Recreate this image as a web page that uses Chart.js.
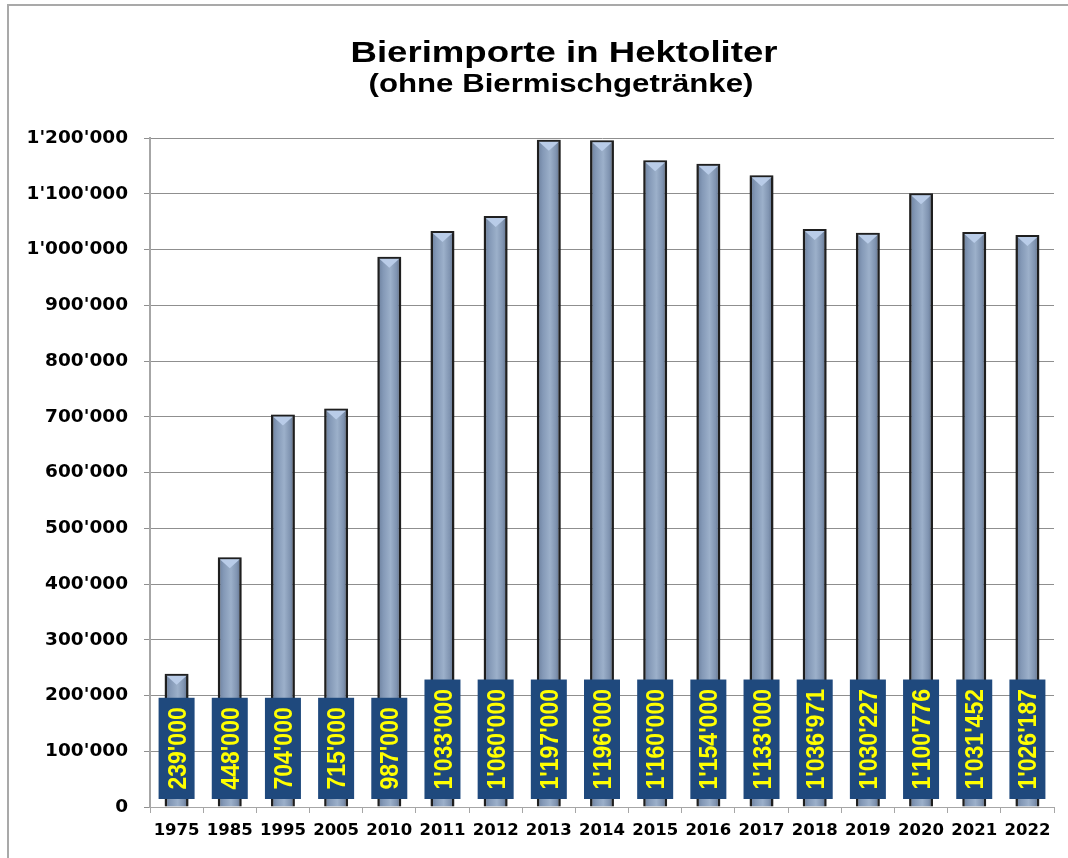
<!DOCTYPE html>
<html>
<head>
<meta charset="utf-8">
<script src="https://cdn.jsdelivr.net/npm/chart.js@4/dist/chart.umd.min.js"></script>
<style>
  html, body { margin: 0; padding: 0; background: #fff; }
  #wrap { width: 1068px; height: 858px; position: relative; }
</style>
</head>
<body>
<div id="wrap"><canvas id="chart" width="1068" height="858"></canvas></div>
<script>
// === DATEN ===
const years = ["1975", "1985", "1995", "2005", "2010", "2011", "2012", "2013", "2014",
  "2015", "2016", "2017", "2018", "2019", "2020", "2021", "2022"];
const imports = [239000, 448000, 704000, 715000, 987000, 1033000, 1060000, 1197000, 1196000,
  1160000, 1154000, 1133000, 1036971, 1030227, 1100776, 1031452, 1026187];
const yMax = 1200000;
const yStep = 100000;

const titleText = "Bierimporte in Hektoliter";
const subtitleText = "(ohne Biermischgetränke)";

const fmt = (v) => String(Math.round(v)).replace(/\B(?=(\d{3})+(?!\d))/g, "'");

const BAR_PCT = 0.45;
const ARIAL = "'Liberation Sans', Arial, sans-serif";

// gestreckter Text (Original ist horizontal etwas breit gezogen)
function stretchedText(ctx, txt, cx, baseline, font, sx) {
  ctx.save();
  ctx.font = font;
  ctx.fillStyle = "#000";
  ctx.textAlign = "center";
  ctx.textBaseline = "alphabetic";
  ctx.translate(cx, baseline);
  ctx.scale(sx, 1);
  ctx.fillText(txt, 0, 0);
  ctx.restore();
}

// === RAHMEN + TITEL ===
const framePlugin = {
  id: "frame",
  beforeDraw(chart) {
    const ctx = chart.ctx;
    ctx.save();
    ctx.strokeStyle = "#a9a9a9";
    ctx.lineWidth = 2;
    ctx.beginPath();
    ctx.moveTo(7, 5);
    ctx.lineTo(chart.width, 5);
    ctx.moveTo(8, 4);
    ctx.lineTo(8, chart.height);
    ctx.stroke();
    ctx.restore();
  },
  afterDraw(chart) {
    const ctx = chart.ctx;
    stretchedText(ctx, titleText, 564, 62, "bold 30px " + ARIAL, 1.22);
    stretchedText(ctx, subtitleText, 561, 92, "bold 26px " + ARIAL, 1.2);
  },
};

// === SCHATTEN, KAPPE UND WERTBOXEN ===
const barDeco = {
  id: "barDeco",
  beforeDatasetsDraw(chart) {
    const ctx = chart.ctx;
    ctx.save();
    ctx.shadowColor = "rgba(0,0,0,0.35)";
    ctx.shadowBlur = 4;
  },
  afterDatasetsDraw(chart) {
    const ctx = chart.ctx;
    ctx.restore();
    const meta = chart.getDatasetMeta(0);
    const area = chart.chartArea;

    // helle Kappe oben
    meta.data.forEach((bar) => {
      const half = bar.width / 2;
      ctx.save();
      ctx.fillStyle = "#b9cce8";
      ctx.beginPath();
      ctx.moveTo(bar.x - half + 2, bar.y + 2);
      ctx.lineTo(bar.x + half - 2, bar.y + 2);
      ctx.lineTo(bar.x, bar.y + 11);
      ctx.closePath();
      ctx.fill();
      ctx.restore();
    });

    // blaue Boxen mit gelben Werten
    ctx.save();
    ctx.font = "bold 23px " + ARIAL;
    meta.data.forEach((bar, i) => {
      const txt = fmt(imports[i]);
      const tw = ctx.measureText(txt).width;
      const h = tw + 19;
      const w = 36;
      const bottom = area.bottom - 8;
      ctx.fillStyle = "#1f497d";
      ctx.fillRect(bar.x - w / 2, bottom - h, w, h);
      ctx.save();
      ctx.translate(bar.x + 1, bottom - h / 2);
      ctx.rotate(-Math.PI / 2);
      ctx.scale(1, 1.1);
      ctx.fillStyle = "#ffff00";
      ctx.textAlign = "center";
      ctx.textBaseline = "middle";
      ctx.fillText(txt, 0, 1);
      ctx.restore();
    });
    ctx.restore();
  },
};

function barGradient(c) {
  const chart = c.chart;
  const x = chart.scales.x;
  if (!chart.chartArea || !x) return "#8096b4";
  const cx = x.getPixelForValue(c.dataIndex);
  const half = (x.width / years.length) * BAR_PCT / 2;
  const g = chart.ctx.createLinearGradient(cx - half, 0, cx + half, 0);
  g.addColorStop(0, "#687c9a");
  g.addColorStop(0.25, "#8499b7");
  g.addColorStop(0.55, "#9cb0ca");
  g.addColorStop(0.8, "#8094b1");
  g.addColorStop(1, "#586984");
  return g;
}

new Chart(document.getElementById("chart"), {
  type: "bar",
  data: {
    labels: years,
    datasets: [
      {
        data: imports,
        backgroundColor: barGradient,
        borderColor: "#222222",
        borderWidth: 2.5,
        borderSkipped: "bottom",
        barPercentage: BAR_PCT,
        categoryPercentage: 1,
      },
    ],
  },
  options: {
    responsive: false,
    animation: false,
    layout: { padding: { top: 138, right: 14, bottom: 0, left: 0 } },
    plugins: {
      legend: { display: false },
      tooltip: { enabled: false },
      title: { display: false },
    },
    scales: {
      x: {
        offset: true,
        grid: { display: true, drawOnChartArea: false, tickLength: 6, color: "#a6a6a6" },
        border: { color: "#a6a6a6", width: 1 },
        ticks: {
          color: "#000",
          padding: 8,
          maxRotation: 0,
          font: { family: "'DejaVu Sans'", size: 16.5, weight: "bold" },
        },
        afterFit(scale) { scale.height = 51; },
      },
      y: {
        min: 0,
        max: yMax,
        grid: { color: "#8f8f8f", lineWidth: 1, tickLength: 6 },
        border: { color: "#a6a6a6", width: 2 },
        ticks: {
          stepSize: yStep,
          color: "#000",
          padding: 16,
          font: { family: "'DejaVu Sans'", size: 18.5, weight: "bold" },
          callback: (v) => fmt(v),
        },
        afterFit(scale) { scale.width = 150; },
      },
    },
  },
  plugins: [framePlugin, barDeco],
});
</script>
</body>
</html>
